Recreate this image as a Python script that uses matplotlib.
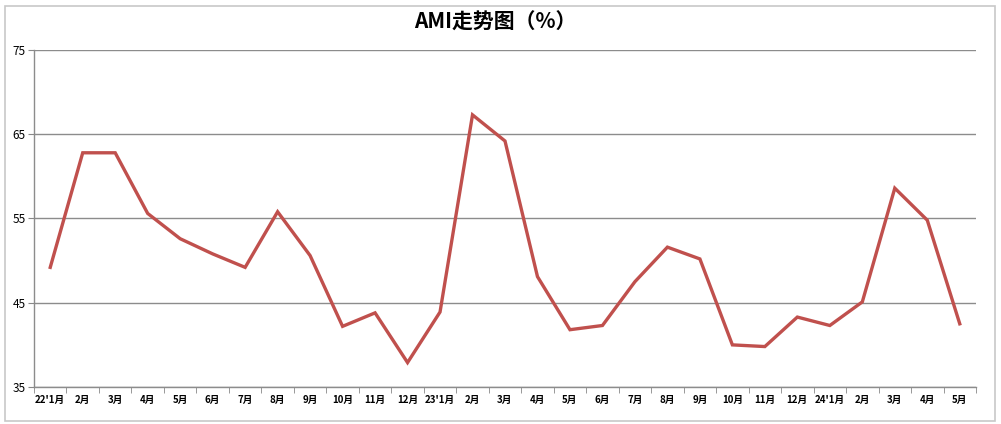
import matplotlib.pyplot as plt
from matplotlib.patches import Rectangle

plt.rcParams['font.family'] = ['Noto Sans CJK SC', 'DejaVu Sans']

# 数据
meses = ["22'1月", "2月", "3月", "4月", "5月", "6月", "7月", "8月", "9月", "10月", "11月", "12月",
         "23'1月", "2月", "3月", "4月", "5月", "6月", "7月", "8月", "9月", "10月", "11月", "12月",
         "24'1月", "2月", "3月", "4月", "5月"]
ami = [49.2, 62.8, 62.8, 55.6, 52.6, 50.8, 49.2, 55.8, 50.6, 42.2, 43.8, 37.9,
       43.9, 67.3, 64.2, 48.1, 41.8, 42.3, 47.5, 51.6, 50.2, 40.0, 39.8, 43.3,
       42.3, 45.1, 58.6, 54.8, 42.5]
y_ticks = [35, 45, 55, 65, 75]

W, H = 1001, 424
fig = plt.figure(figsize=(W / 100, H / 100), dpi=100)
ax = fig.add_axes([34 / W, (H - 387) / H, (976 - 34) / W, (387 - 50) / H])

# marco exterior
fig.patches.append(Rectangle((5 / W, 3 / H), 990 / W, 415 / H, transform=fig.transFigure,
                             fill=False, edgecolor='#c8c8c8', linewidth=1.2))

x = list(range(len(ami)))
ax.plot(x, ami, color='#C0504D', linewidth=2.4, solid_joinstyle='miter')

ax.set_ylim(35, 75)
ax.set_yticks(y_ticks)
ax.set_yticklabels([str(v) for v in y_ticks], fontsize=8.5)
ax.set_xlim(-0.5, len(ami) - 0.5)
ax.set_xticks(x)
ax.set_xticklabels(meses, fontsize=7, fontweight='bold')
ax.set_xticks([i - 0.5 for i in range(len(ami) + 1)], minor=True)
ax.tick_params(axis='x', which='major', length=0, pad=6)
ax.tick_params(axis='x', which='minor', length=4, color='#888888', direction='out')
ax.tick_params(axis='y', length=4, color='#888888', pad=2)

ax.grid(axis='y', color='#8c8c8c', linewidth=1)
ax.set_axisbelow(True)
for s in ['top', 'right']:
    ax.spines[s].set_visible(False)
for s in ['left', 'bottom']:
    ax.spines[s].set_color('#8c8c8c')
    ax.spines[s].set_linewidth(1)

fig.text(495 / W, 1 - 22 / H, 'AMI走势图（%）', ha='center', va='center',
         fontsize=15, fontweight='bold')

fig.savefig('out.png', dpi=100)
plt.close()
